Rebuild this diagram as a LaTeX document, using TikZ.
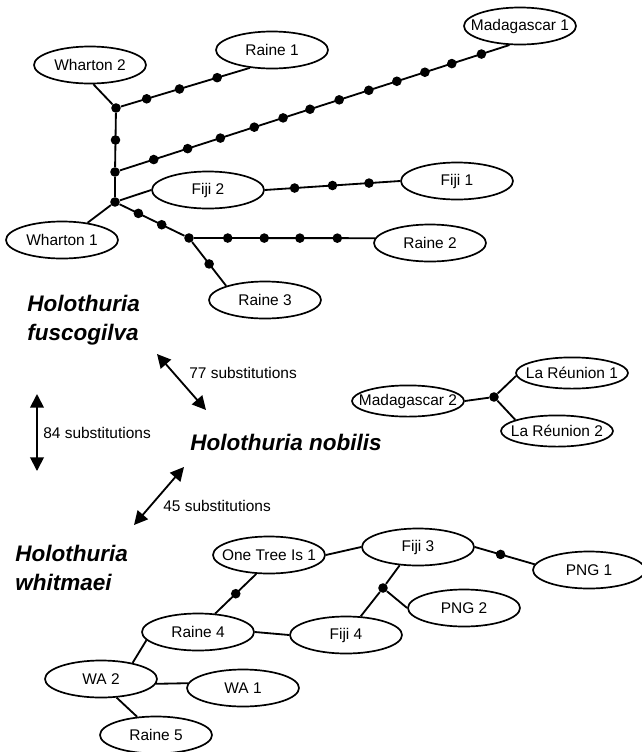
\documentclass[tikz,border=0pt]{standalone}
\usepackage{fontspec}
\setmainfont{Liberation Sans}
\usetikzlibrary{shapes.geometric}
\usetikzlibrary{arrows.meta}

\begin{document}
\begin{tikzpicture}[x=0.025cm, y=-0.025cm]
        % Style definitions
        \tikzset{
            hap/.style={ellipse, draw, black, line width=1.2pt, minimum width=2.8cm, minimum height=0.925cm, inner xsep=-1cm, inner ysep=0pt, font=\fontsize{11pt}{13pt}\selectfont},
            hapsmall/.style={hap, minimum height=0.78cm},
            mutdot/.style={circle, fill=black, inner sep=0pt, minimum size=0.24cm},
            branch/.style={black, line width=1.3pt},
            dist/.style={black, line width=1.3pt, {Triangle[length=0.34cm,width=0.34cm]}-{Triangle[length=0.34cm,width=0.34cm]}},
            species/.style={inner sep=0pt, align=left, font=\fontsize{16pt}{20.5pt}\selectfont\bfseries\itshape},
            sublabel/.style={inner sep=0pt, anchor=west, font=\fontsize{11pt}{13pt}\selectfont}
        }
        \useasboundingbox (0,0) rectangle (642,752);

        % ==========================================
        % HOLOTHURIA FUSCOGILVA NETWORK
        % ==========================================

        \node[hap] (wh2) at (90,65) {Wharton 2};
        \node[hap] (raine1) at (272,50) {Raine 1};
        \node[hap] (mad1) at (520,26) {Madagascar 1};
        \node[hap] (fiji2) at (208,190) {Fiji 2};
        \node[hap] (fiji1) at (457,181) {Fiji 1};
        \node[hap] (wh1) at (62,240) {Wharton 1};
        \node[hap] (raine2) at (430,243) {Raine 2};
        \node[hap] (raine3) at (265,300) {Raine 3};

        \node[mutdot] (A) at (116,108) {};
        \node[mutdot] (B) at (115,172) {};
        \node[mutdot] (C) at (115,202) {};
        \node[mutdot] (D) at (189,238) {};

        \draw[branch] (wh2.-80) -- (A);
        \draw[branch] (A) -- (raine1.-141)
            \foreach \p [count=\i] in {0.2,0.454,0.746} {node[mutdot, pos=\p] (r1m\i) {}};
        \draw[branch] (A) -- (B) node[mutdot, pos=0.5] (abm1) {};
        \draw[branch] (B) -- (C);
        \draw[branch] (B) -- (mad1.-119)
            \foreach \p [count=\i] in {0.087,0.174,0.258,0.345,0.419,0.488,0.563,0.639,0.711,0.783,0.852,0.928} {node[mutdot, pos=\p] (m1m\i) {}};
        \draw[branch] (C) -- (fiji2.west);
        \draw[branch] (fiji2.east) -- (fiji1.west)
            \foreach \p [count=\i] in {0.22,0.5,0.77} {node[mutdot, pos=\p] (f1m\i) {}};
        \draw[branch] (C) -- (wh1.34);
        \draw[branch] (C) -- (D)
            \foreach \p [count=\i] in {0.29,0.65} {node[mutdot, pos=\p] (cdm\i) {}};
        \draw[branch] (D) -- (raine2.175)
            \foreach \p [count=\i] in {0.186,0.388,0.585,0.792} {node[mutdot, pos=\p] (r2m\i) {}};
        \draw[branch] (D) -- (raine3.160) node[mutdot, pos=0.5] (r3m1) {};

        % ==========================================
        % HOLOTHURIA NOBILIS NETWORK
        % ==========================================

        \node[hapsmall] (mad2) at (408,401) {Madagascar 2};
        \node[hapsmall] (lr1) at (572,373) {La Réunion 1};
        \node[hapsmall] (lr2) at (557,431) {La Réunion 2};
        \node[mutdot] (E) at (494,397) {};

        \draw[branch] (mad2.east) -- (E);
        \draw[branch] (E) -- (lr1.-177);
        \draw[branch] (E) -- (lr2.165);

        % ==========================================
        % HOLOTHURIA WHITMAEI NETWORK
        % ==========================================

        \node[hap] (onetree) at (269,555) {One Tree Is 1};
        \node[hap] (fiji3) at (418,547) {Fiji 3};
        \node[hap] (png1) at (589,570) {PNG 1};
        \node[hap] (png2) at (464,608) {PNG 2};
        \node[hap] (raine4) at (198,632) {Raine 4};
        \node[hap] (fiji4) at (346,635) {Fiji 4};
        \node[hap] (wa2) at (101,679) {WA 2};
        \node[hap] (wa1) at (243,688) {WA 1};
        \node[hap] (raine5) at (156,735) {Raine 5};
        \node[mutdot] (F) at (383,588) {};

        \draw[branch] (onetree.east) -- (fiji3.west);
        \draw[branch] (fiji3.east) -- (png1.174) node[mutdot, pos=0.43] (p1m1) {};
        \draw[branch] (fiji3.-135) -- (F);
        \draw[branch] (F) -- (fiji4);
        \draw[branch] (F) -- (png2.west);
        \draw[branch] (onetree.-124) -- (raine4.47) node[mutdot, pos=0.5] (r4m1) {};
        \draw[branch] (raine4.east) -- (fiji4.west);
        \draw[branch] (raine4.-171) -- (wa2.27);
        \draw[branch] (wa2.-5) -- (wa1.175);
        \draw[branch] (wa2.-50) -- (raine5.136);

        % ==========================================
        % SPECIES AND DISTANCES
        % ==========================================

        \node[species, anchor=north west] (fuscogilva) at (27,295) {Holothuria\\fuscogilva};
        \node[species, anchor=base west] (nobilis) at (190,450) {Holothuria nobilis};
        \node[species, anchor=north west] (whitmaei) at (15,545) {Holothuria\\whitmaei};

        \coordinate (fusc77) at (157,354);
        \coordinate (nob77) at (206,410);
        \coordinate (fusc84) at (37,394);
        \coordinate (whit84) at (37,471);
        \coordinate (nob45) at (184,467);
        \coordinate (whit45) at (134,525);

        \draw[dist] (fusc77) -- (nob77);
        \draw[dist] (fusc84) -- (whit84);
        \draw[dist] (nob45) -- (whit45);

        \node[sublabel] (lab77) at (189,373) {77 substitutions};
        \node[sublabel] (lab84) at (43,433) {84 substitutions};
        \node[sublabel] (lab45) at (163,506) {45 substitutions};
    \end{tikzpicture}
\end{document}
